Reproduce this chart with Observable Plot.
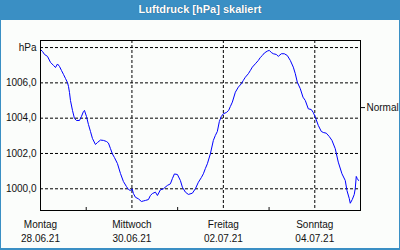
<!DOCTYPE html>
<html>
<head>
<meta charset="utf-8">
<script src="https://cdn.jsdelivr.net/npm/d3@7"></script>
<script src="https://cdn.jsdelivr.net/npm/@observablehq/plot@0.6"></script>
<style>
  html, body { margin: 0; padding: 0; background: #fff; }
  #wrap { position: relative; width: 400px; height: 250px; background: #fbfdfb; overflow: hidden; }
  #title { position: absolute; left: 0; top: 0; width: 400px; height: 20px; background: #3a8fc4;
           color: #fff; font: bold 11px "Liberation Sans", "DejaVu Sans", sans-serif; line-height: 19px;
           text-align: center; text-shadow: 0 0 1px #1d4f74; }
  #chart { position: absolute; left: 0; top: 20px; }
  #border { position: absolute; left: 0; top: 0; width: 400px; height: 250px; box-sizing: border-box;
            border-left: 1px solid #3a8fc4; border-right: 1px solid #3a8fc4; border-bottom: 2px solid #3a8fc4;
            pointer-events: none; }
</style>
</head>
<body>
<div id="wrap">
  <div id="title">Luftdruck [hPa] skaliert</div>
  <div id="chart"></div>
  <div id="border"></div>
</div>
<script>
// hours since Monday 28.06.21 00:00
const hours = [0,1.05,2.1,3.67,5.25,6.82,7.87,8.92,9.97,11.02,12.07,13.11,14.16,14.69,15.21,15.74,16.79,17.84,18.89,20.46,
  21.51,22.56,23.08,24.13,25.18,26.23,27.28,28.85,29.9,31.48,33.05,34.62,35.67,36.72,37.77,38.82,40.39,41.97,43.54,45.11,
  46.16,47.21,48.1,48.79,49.84,51.41,52.98,54.03,55.08,56.66,57.7,58.75,60.33,61.38,62.95,64.52,66.62,68.2,69.25,70.3,
  71.87,73.44,74.49,76.07,77.64,79.74,81.31,82.89,84.46,85.51,86.56,87.61,89.18,90.75,91.8,92.85,93.9,94.95,96,97.57,
  98.78,99.67,100.72,102.3,103.87,105.44,106.49,107.54,109.11,110.16,111.21,112.79,114.36,115.41,116.46,117.51,119.08,120.13,121.18,122.23,
  123.8,124.85,126.43,128,129.57,131.15,132.72,133.77,134.82,136.39,137.81,139.02,140.59,142.16,143.21,144.26,145.84,147.41,148.46,150.03,
  151.61,153.02,154.75,156.33,158.27,160,160.89,162.1,162.62,163.67,164.72,165.25,165.77,166.3,166.98];
const hPa = [1007.89,1007.78,1007.61,1007.5,1007.16,1006.99,1006.87,1007.07,1006.93,1006.7,1006.48,1006.25,1006.02,1005.8,1005.46,1005.0,1004.44,1003.98,1003.87,1003.87,
  1004.1,1004.38,1004.44,1004.1,1003.64,1003.25,1002.85,1002.51,1002.62,1002.76,1002.74,1002.68,1002.59,1002.28,1001.97,1001.77,1001.43,1000.87,1000.41,1000.13,
  999.96,999.9,1000.0,999.73,999.52,999.43,999.28,999.31,999.34,999.39,999.62,999.73,999.81,999.62,999.94,1000.0,1000.19,1000.28,1000.58,1000.84,
  1000.81,1000.47,1000.09,999.81,999.68,999.75,1000.0,1000.37,1000.64,1000.85,1001.15,1001.42,1001.98,1002.74,1003.02,1003.25,1003.81,1004.1,1004.25,1004.32,
  1004.44,1004.66,1004.91,1005.47,1005.76,1005.95,1006.14,1006.32,1006.52,1006.7,1006.89,1007.08,1007.27,1007.44,1007.55,1007.69,1007.8,1007.84,1007.72,1007.65,
  1007.61,1007.5,1007.65,1007.65,1007.55,1007.27,1006.89,1006.52,1006.04,1005.67,1005.19,1005.0,1004.53,1004.49,1004.32,1004.06,1003.59,1003.25,1003.19,1003.15,
  1002.96,1002.74,1002.27,1001.51,1000.85,1000.47,999.9,999.45,999.18,999.39,999.68,1000.02,1000.7,1000.58,1000.47];

const yTicks = [1000, 1002, 1004, 1006, 1008];
const yTickLabels = ["1000,0", "1002,0", "1004,0", "1006,0", "hPa"];
const dayTicks = [0, 48, 96, 144];
const dayNames = ["Montag", "Mittwoch", "Freitag", "Sonntag"];
const dayDates = ["28.06.21", "30.06.21", "02.07.21", "04.07.21"];
const gridDays = [48, 96, 144];
const minorTicks = [24, 72, 120];
const normalValue = 1004.6;
const normalLabel = "Normal";

const data = hours.map((h, i) => ({h, p: hPa[i]}));
const dash = {stroke: "#000", strokeOpacity: 1, strokeDasharray: "3,2", strokeWidth: 1};

const chart = Plot.plot({
  width: 400,
  height: 230,
  marginLeft: 40,
  marginRight: 40,
  marginTop: 20,
  marginBottom: 40,
  x: {domain: [0, 168]},
  y: {domain: [998.77, 1008.4]},
  style: {background: "transparent", fontFamily: "'Liberation Sans', 'DejaVu Sans', sans-serif", fontSize: "10px", color: "#111"},
  marks: [
    Plot.gridY(yTicks, dash),
    Plot.gridX(gridDays, dash),
    Plot.axisY(yTicks, {anchor: "left", tickSize: 0, tickPadding: 4, label: null,
      tickFormat: d => yTickLabels[yTicks.indexOf(d)]}),
    Plot.axisX(dayTicks, {anchor: "bottom", tickSize: 0, tickPadding: 10, label: null,
      tickFormat: d => dayNames[dayTicks.indexOf(d)]}),
    Plot.axisX(dayTicks, {anchor: "bottom", tickSize: 0, tickPadding: 24, label: null,
      tickFormat: d => dayDates[dayTicks.indexOf(d)]}),
    Plot.axisX(minorTicks, {anchor: "bottom", tickSize: -3, label: null, tickFormat: () => ""}),
    Plot.axisY([normalValue], {anchor: "right", tickSize: 4, tickPadding: 2, label: null,
      tickFormat: () => normalLabel}),
    Plot.line(data, {x: "h", y: "p", stroke: "#0000ff", strokeWidth: 1}),
    Plot.frame({stroke: "#000"})
  ]
});
document.getElementById("chart").appendChild(chart);
</script>
</body>
</html>
